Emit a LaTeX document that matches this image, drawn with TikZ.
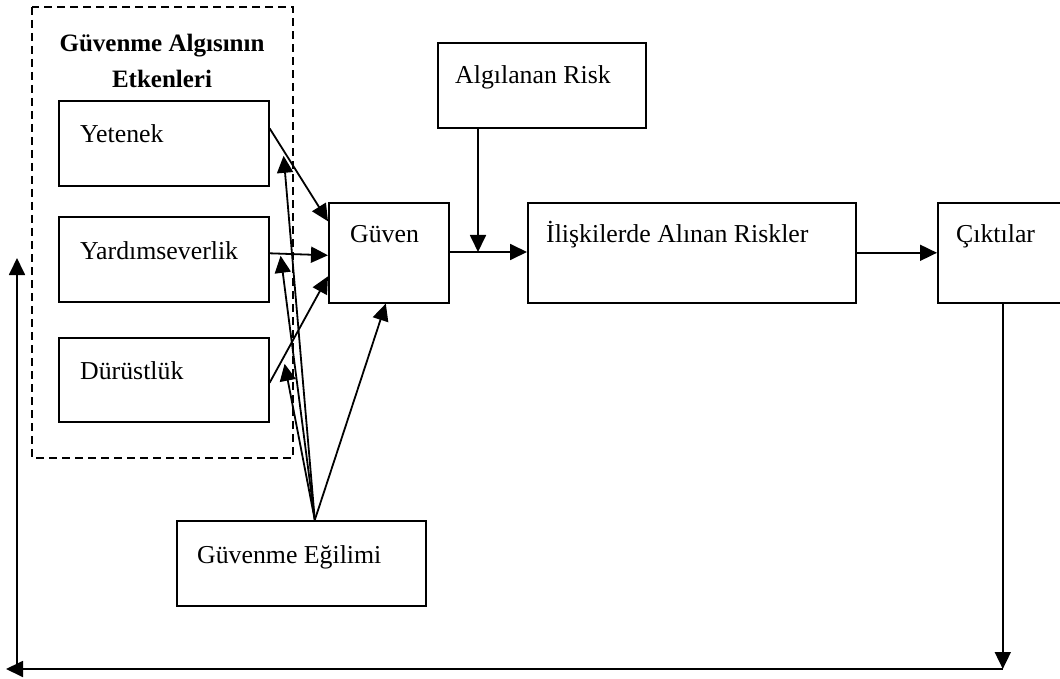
\documentclass[tikz,border=0pt]{standalone}
\usepackage{fontspec}
\setmainfont{Liberation Serif}
\usetikzlibrary{arrows.meta,calc}
\begin{document}
\begin{tikzpicture}[x=1pt,y=-1pt,
  box/.style={draw,line width=1.6pt,rectangle,inner sep=0pt,anchor=north west},
  lbl/.style={anchor=base west,inner sep=0pt,font=\fontsize{25.8}{30}\selectfont},
  arr/.style={line width=1.8pt,-{Triangle[length=17pt,width=16pt]}},
  ln/.style={line width=1.8pt}]
\useasboundingbox (0,0) rectangle (1060,679);

% dashed frame around the factors
\draw[line width=2pt,dash pattern=on 8pt off 5pt] (32,7) rectangle (293,458);
\node[anchor=base,inner sep=0pt,font=\fontsize{25}{29}\selectfont\bfseries] (title1) at (162,52) {Güvenme Algısının};
\node[anchor=base,inner sep=0pt,font=\fontsize{25}{29}\selectfont\bfseries] (title2) at (162,88) {Etkenleri};

% boxes
\node[box,minimum width=210pt,minimum height=85pt] (yet) at (58,100) {};
\node[box,minimum width=210pt,minimum height=85pt] (yard) at (58,216) {};
\node[box,minimum width=210pt,minimum height=84pt] (dur) at (58,337) {};
\node[box,minimum width=120pt,minimum height=100pt] (guv) at (328,202) {};
\node[box,minimum width=208pt,minimum height=85pt] (alg) at (437,42) {};
\node[box,minimum width=328pt,minimum height=100pt] (ilis) at (527,202) {};
\node[box,minimum width=130pt,minimum height=100pt] (cik) at (937,202) {};
\node[box,minimum width=249pt,minimum height=85pt] (egi) at (176,520) {};

% texts
\node[lbl] (tyet) at (80,143) {Yetenek};
\node[lbl] (tyard) at (80,259) {Yardımseverlik};
\node[lbl] (tdur) at (80,379) {Dürüstlük};
\node[lbl] (tguv) at (350,243) {Güven};
\node[lbl] (talg) at (455,84) {Algılanan Risk};
\node[lbl] (tilis) at (546,243) {İlişkilerde Alınan Riskler};
\node[lbl] (tcik) at (956,243) {Çıktılar};
\node[lbl] (tegi) at (197,563) {Güvenme Eğilimi};

% factors to trust
\draw[arr] ([yshift=15pt]yet.east) -- ([yshift=31.5pt]guv.west);
\draw[arr] ([yshift=6pt]yard.east) -- ([yshift=-2.5pt]guv.west);
\draw[arr] ([yshift=-3pt]dur.east) -- ([yshift=-23.5pt]guv.west);

% propensity to trust
\coordinate (src) at ([xshift=13.5pt]egi.north);
\draw[arr] (src) -- ([xshift=14pt,yshift=-12.5pt]yet.east);
\draw[arr] (src) -- ([xshift=11pt,yshift=3.5pt]yard.east);
\draw[arr] (src) -- ([xshift=15pt,yshift=16pt]dur.east);
\draw[arr] (src) -- ([xshift=-3pt]guv.south);

% main chain
\coordinate (j) at (478,252);
\draw[ln] (guv.east |- j) -- (j);
\draw[arr] (j) -- (ilis.west |- j);
\draw[arr] (alg.south -| j) -- (j);
\draw[arr] (ilis.east) -- (cik.west);

% feedback loop
\coordinate (br) at (cik.south |- 0,669);
\coordinate (bl) at (6,669);
\coordinate (lb) at (17,669);
\coordinate (lt) at (17,258);
\draw[arr] (cik.south) -- (br);
\draw[arr] (br) -- (bl);
\draw[arr] (lb) -- (lt);
\end{tikzpicture}
\end{document}
